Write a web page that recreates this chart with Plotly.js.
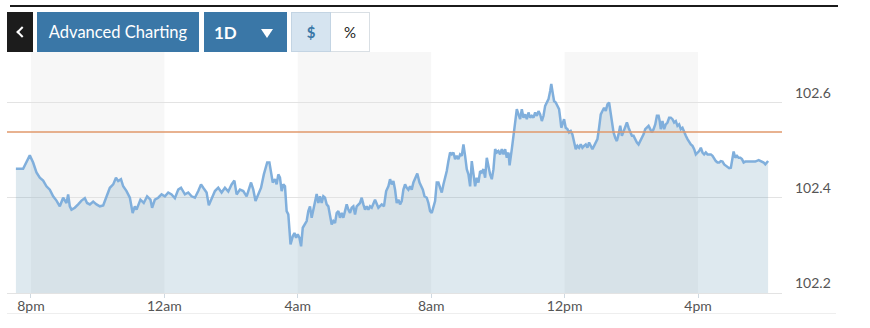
<!DOCTYPE html>
<html>
<head>
<meta charset="utf-8">
<script src="https://cdn.plot.ly/plotly-3.0.1.min.js"></script>
<style>
  html, body { margin: 0; padding: 0; background: #fff; }
  body { width: 870px; height: 328px; position: relative; overflow: hidden; font-family: Lato, "Open Sans", sans-serif; }
  #chart { position: absolute; left: 0; top: 0; width: 870px; height: 328px; }
  .topline { position: absolute; left: 10px; top: 5px; width: 828px; height: 2px; background: #1b1b1b; z-index: 5; }
  .botline { position: absolute; left: 7px; top: 313px; width: 829px; height: 1px; background: #eeeeee; z-index: 5; }
  .btn { position: absolute; top: 12px; height: 40px; box-sizing: border-box; display: flex; align-items: center; justify-content: center; z-index: 5; }
  .back { left: 7px; width: 26px; background: #1c1c1c; }
  .chev { display: block; width: 6px; height: 6px; border-left: 2px solid #fff; border-bottom: 2px solid #fff; transform: translateX(2px) rotate(45deg); }
  .adv { left: 37px; width: 162px; background: #3a77a7; color: #fff; font-size: 16.5px; }
  .range { left: 204px; width: 83px; background: #3a77a7; color: #fff; font-size: 17px; font-weight: 700; justify-content: flex-start; padding-left: 10px; }
  .tri { position: absolute; left: 57px; top: 17px; width: 0; height: 0; border-left: 6.5px solid transparent; border-right: 6.5px solid transparent; border-top: 9px solid #fff; }
  .usd { left: 291px; width: 40px; background: #d6e4f0; border: 1px solid #c3d4e3; color: #3a77a7; font-size: 15px; font-weight: 700; }
  .pct { left: 331px; width: 39px; background: #fff; border: 1px solid #d9dfe4; border-left: none; color: #222; font-size: 15px; }
</style>
</head>
<body>
<div id="chart"></div>
<div class="topline"></div>
<div class="botline"></div>
<div class="btn back"><span class="chev"></span></div>
<div class="btn adv">Advanced Charting</div>
<div class="btn range">1D<span class="tri"></span></div>
<div class="btn usd">$</div>
<div class="btn pct">%</div>
<script>
// minutes since 8pm
const mins = [-27,-14,-2,4,10,16,22,28,34,40,46,52,58,64,67,70,73,79,85,91,97,101,106,112,118,124,130,136,142,148,153,157,162,166,172,178,183,187,190,197,203,209,215,218,223,229,235,241,247,253,259,265,270,277,283,289,295,301,306,310,316,320,325,331,337,343,349,355,361,366,370,376,382,388,396,400,404,409,414,419,425,429,432,435,439,442,445,448,451,454,457,460,463,465,467,471,474,477,480,483,486,489,493,496,499,502,505,508,511,514,517,520,523,526,529,532,535,538,541,544,547,550,553,556,559,562,565,568,571,574,577,580,583,586,592,595,598,601,604,607,610,613,619,622,625,631,635,639,643,646,649,652,655,658,661,664,667,670,673,676,679,682,685,688,691,695,699,702,705,708,712,715,718,721,724,727,730,733,736,739,742,745,748,751,754,757,760,763,766,769,772,775,778,781,784,787,790,793,796,799,802,805,808,811,814,817,820,823,826,829,832,835,838,841,844,847,850,853,856,859,861,865,868,871,874,877,880,883,886,889,892,895,898,901,904,907,910,913,916,919,922,925,928,931,934,936,939,941,944,947,950,952,954,956,959,962,965,968,971,974,977,980,983,986,989,992,995,998,1001,1004,1007,1010,1013,1016,1019,1022,1025,1028,1031,1034,1037,1040,1042,1045,1048,1051,1054,1057,1060,1063,1066,1069,1072,1075,1078,1081,1084,1087,1090,1093,1096,1099,1102,1105,1108,1111,1114,1117,1120,1123,1126,1129,1131,1133,1136,1139,1142,1145,1148,1151,1154,1157,1160,1163,1166,1169,1172,1175,1178,1181,1184,1187,1190,1193,1196,1199,1202,1205,1208,1211,1214,1217,1220,1223,1226,1229,1232,1235,1238,1241,1244,1247,1250,1253,1256,1259,1262,1264,1267,1270,1273,1276,1279,1282,1285,1290,1297,1303,1309,1315,1318,1321,1324,1326];
const prices = [102.461,102.461,102.489,102.474,102.453,102.442,102.436,102.424,102.417,102.403,102.394,102.382,102.400,102.389,102.407,102.382,102.375,102.379,102.386,102.394,102.399,102.389,102.386,102.392,102.386,102.382,102.384,102.403,102.421,102.428,102.442,102.435,102.439,102.424,102.414,102.400,102.368,102.382,102.375,102.396,102.389,102.403,102.396,102.379,102.396,102.400,102.407,102.403,102.411,102.407,102.399,102.417,102.421,102.407,102.411,102.403,102.400,102.414,102.428,102.421,102.411,102.384,102.396,102.414,102.421,102.411,102.421,102.413,102.428,102.436,102.407,102.417,102.414,102.403,102.432,102.417,102.393,102.407,102.421,102.449,102.474,102.474,102.453,102.432,102.439,102.428,102.449,102.442,102.414,102.428,102.424,102.372,102.365,102.330,102.302,102.319,102.326,102.316,102.323,102.316,102.298,102.337,102.344,102.351,102.372,102.382,102.358,102.375,102.396,102.408,102.389,102.403,102.389,102.403,102.400,102.386,102.382,102.358,102.344,102.351,102.347,102.368,102.372,102.358,102.368,102.358,102.375,102.386,102.375,102.368,102.379,102.382,102.365,102.382,102.389,102.400,102.386,102.375,102.382,102.375,102.382,102.379,102.396,102.386,102.379,102.386,102.382,102.414,102.424,102.439,102.428,102.435,102.417,102.389,102.396,102.386,102.393,102.417,102.428,102.421,102.417,102.424,102.417,102.432,102.439,102.451,102.432,102.424,102.417,102.403,102.400,102.389,102.372,102.368,102.379,102.393,102.432,102.432,102.421,102.411,102.428,102.442,102.456,102.477,102.495,102.491,102.495,102.481,102.488,102.481,102.491,102.488,102.512,102.488,102.460,102.449,102.424,102.477,102.449,102.424,102.442,102.432,102.456,102.453,102.460,102.442,102.484,102.463,102.449,102.439,102.460,102.502,102.495,102.498,102.491,102.502,102.491,102.502,102.484,102.495,102.468,102.502,102.533,102.565,102.586,102.575,102.565,102.586,102.568,102.575,102.565,102.579,102.568,102.572,102.568,102.579,102.572,102.582,102.575,102.561,102.572,102.593,102.600,102.607,102.624,102.639,102.617,102.603,102.600,102.593,102.586,102.568,102.547,102.554,102.565,102.547,102.544,102.537,102.540,102.533,102.519,102.502,102.509,102.505,102.512,102.505,102.509,102.512,102.505,102.516,102.509,102.502,102.509,102.516,102.523,102.547,102.575,102.582,102.589,102.582,102.596,102.600,102.582,102.554,102.537,102.526,102.519,102.533,102.551,102.530,102.540,102.551,102.558,102.547,102.537,102.530,102.530,102.521,102.516,102.512,102.519,102.526,102.533,102.544,102.547,102.551,102.544,102.537,102.544,102.554,102.572,102.572,102.561,102.544,102.561,102.544,102.554,102.558,102.568,102.568,102.565,102.558,102.561,102.551,102.554,102.544,102.547,102.537,102.530,102.523,102.516,102.512,102.509,102.502,102.491,102.495,102.498,102.505,102.495,102.491,102.495,102.491,102.491,102.491,102.488,102.481,102.477,102.474,102.474,102.477,102.476,102.470,102.467,102.463,102.462,102.463,102.481,102.497,102.484,102.488,102.484,102.484,102.481,102.474,102.476,102.476,102.477,102.476,102.479,102.476,102.474,102.470,102.474,102.477];
const refLevel = 102.538;
const tickMins = [0, 240, 480, 720, 960, 1200];
const tickLabels = ['8pm', '12am', '4am', '8am', '12pm', '4pm'];
const priceTicks = [102.2, 102.4, 102.6];
const shadedBands = [[0, 240], [480, 720], [960, 1200]];

const shapes = shadedBands.map(b => ({
  type: 'rect', xref: 'x', yref: 'paper', x0: b[0], x1: b[1], y0: 0, y1: 1,
  fillcolor: '#f7f7f7', line: {width: 0}, layer: 'below'
}));
shapes.push({
  type: 'line', xref: 'paper', yref: 'y', x0: 0, x1: 1, y0: refLevel, y1: refLevel,
  line: {color: '#e0996b', width: 1.6}
});

const trace = {
  x: mins, y: prices, type: 'scatter', mode: 'lines',
  line: {color: '#80afdc', width: 2.5},
  fill: 'tozeroy', fillcolor: 'rgba(100,150,180,0.21)',
  hoverinfo: 'skip'
};

const layout = {
  width: 870, height: 328,
  margin: {l: 7, r: 88, t: 52, b: 35},
  paper_bgcolor: 'rgba(0,0,0,0)', plot_bgcolor: '#ffffff',
  showlegend: false,
  font: {family: 'Lato, "Open Sans", sans-serif', color: '#555', size: 14},
  xaxis: {
    range: [-43, 1351], tickvals: tickMins, ticktext: tickLabels,
    showgrid: false, zeroline: false, showline: true, linecolor: '#e3e3e3', linewidth: 1,
    ticks: 'outside', ticklen: 4, tickcolor: '#cfd9e1', tickwidth: 1,
    ticklabelstandoff: -4,
    tickfont: {size: 14, color: '#555'}, fixedrange: true
  },
  yaxis: {
    side: 'right', range: [102.2, 102.706], tickvals: priceTicks,
    ticktext: priceTicks.map(v => v.toFixed(1)),
    showgrid: true, gridcolor: '#e3e3e3', gridwidth: 1, zeroline: false, showline: false,
    ticks: '', ticklabelposition: 'outside top', ticklabelstandoff: 12,
    tickfont: {size: 14, color: '#555'}, fixedrange: true
  },
  shapes: shapes
};

Plotly.newPlot('chart', [trace], layout, {staticPlot: true, displayModeBar: false});
</script>
</body>
</html>
